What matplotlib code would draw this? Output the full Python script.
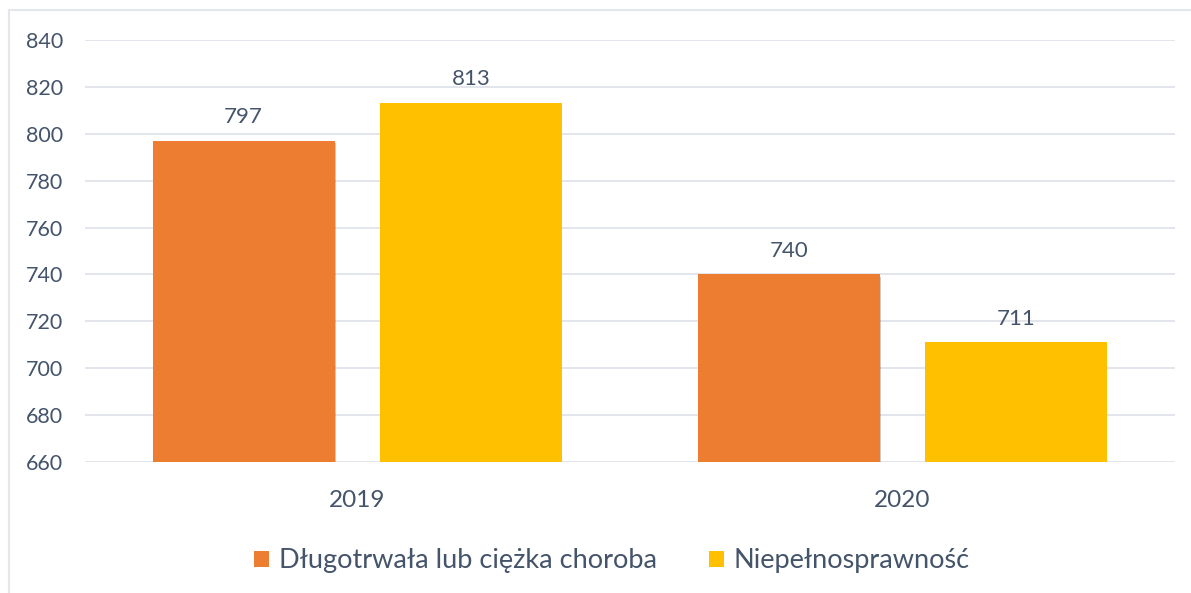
import matplotlib
matplotlib.use("Agg")
import matplotlib.pyplot as plt
import matplotlib.patheffects as pe
from matplotlib.patches import Rectangle
import numpy as np

plt.rcParams['font.family'] = ['Lato', 'DejaVu Sans']

years = ['2019', '2020']
series_names = ['Długotrwała lub ciężka choroba', 'Niepełnosprawność']
choroba = [797, 740]
niepelnosprawnosc = [813, 711]
yticks = [660, 680, 700, 720, 740, 760, 780, 800, 820, 840]

text_color = '#44546A'
colors = ['#ED7D31', '#FFC000']

fig = plt.figure(figsize=(11.91, 5.93), dpi=100)
ax = fig.add_axes([0.0714, 0.2209, 0.9152, 0.7116])

# chart frame
fig.patches.append(Rectangle((9 / 1191, -0.01), 1.02, 1 - 10 / 593 + 0.01,
                             transform=fig.transFigure, fill=False,
                             edgecolor='#E3E6EB', linewidth=1.5))

x = np.arange(len(years))
width = 0.334
offset = 0.209
bars1 = ax.bar(x - offset, np.array(choroba) - 660, width, bottom=660,
               color=colors[0], label=series_names[0], zorder=3)
bars2 = ax.bar(x + offset, np.array(niepelnosprawnosc) - 660, width, bottom=660,
               color=colors[1], label=series_names[1], zorder=3)

for bars, vals in [(bars1, choroba), (bars2, niepelnosprawnosc)]:
    for b, v in zip(bars, vals):
        ax.annotate(str(v), (b.get_x() + b.get_width() / 2, v),
                    xytext=(0, 10), textcoords='offset points',
                    ha='center', va='bottom', fontsize=16, color=text_color)

ax.set_xlim(-0.5, 1.5)
ax.set_ylim(660, 840)
ax.set_yticks(yticks)
ax.set_xticks(x)
ax.set_xticklabels(years)
ax.grid(axis='y', color='#DDE2E9', linewidth=1.2, zorder=0)
for s in ax.spines.values():
    s.set_visible(False)
ax.tick_params(axis='y', length=0, pad=16, labelsize=15.5, labelcolor=text_color)
ax.tick_params(axis='x', length=0, pad=20, labelsize=17.5, labelcolor=text_color)

fig.legend(loc='center', bbox_to_anchor=(0.514, 0.054), ncol=2, frameon=False,
           fontsize=19.5, labelcolor=text_color, handlelength=0.55,
           handleheight=0.55, handletextpad=0.37, columnspacing=1.9)

# light drop shadow under the orange bars (added after legend so the handle stays flat)
for b in bars1:
    b.set_path_effects([pe.SimplePatchShadow(offset=(1, -1.5), alpha=0.25),
                        pe.Normal()])

fig.savefig('out.png', dpi=100)
